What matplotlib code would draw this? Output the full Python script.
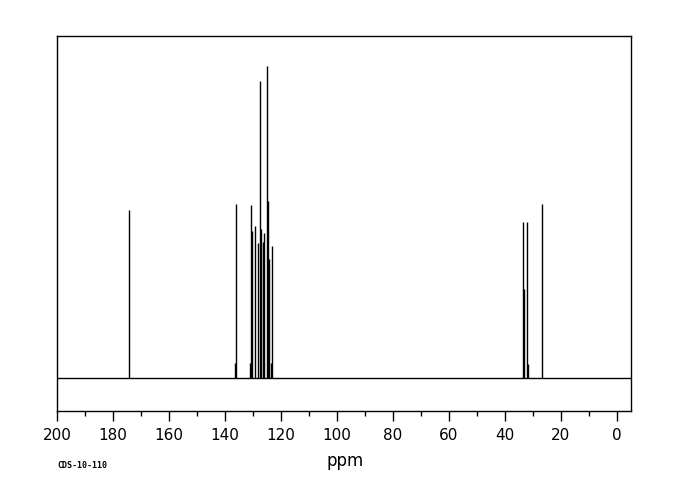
import numpy as np
import matplotlib.pyplot as plt
from matplotlib.ticker import MultipleLocator

# peak positions (ppm) and relative heights
shift = [174.2, 136.4, 136.1, 131.0, 130.7, 130.4, 129.2, 128.1, 127.4, 127.0,
         126.3, 126.0, 124.9, 124.5, 124.2, 123.7, 123.1,
         33.6, 33.3, 32.0, 31.7, 26.7]
height = [53.8, 4.8, 55.8, 4.8, 55.4, 47.0, 48.7, 43.4, 95.3, 47.8,
          43.6, 46.6, 100.0, 56.7, 38.2, 4.9, 42.3,
          49.9, 28.5, 49.9, 4.5, 55.7]

ticks_major = np.arange(0, 201, 20)
code = 'CDS-10-110'

fig = plt.figure(figsize=(6.8, 5.0), dpi=100)
ax = fig.add_axes([57 / 680, 89 / 500, 574 / 680, 375 / 500])

ax.axhline(0, color='black', lw=1.0)
ax.vlines(shift, 0, height, color='black', lw=1.0)

ax.set_xlim(200, -5.1)
ax.set_ylim(-10.6, 109.6)
ax.set_yticks([])
ax.set_xticks(ticks_major)
ax.xaxis.set_minor_locator(MultipleLocator(10))
ax.tick_params(axis='x', which='major', direction='out', length=7, width=1,
               labelsize=11, pad=5)
ax.tick_params(axis='x', which='minor', direction='out', length=3.6, width=1)
for s in ax.spines.values():
    s.set_linewidth(1.0)

fig.text(345 / 680, 1 - 461 / 500, 'ppm', ha='center', va='center', fontsize=12)
fig.text(57 / 680, 1 - 465 / 500, code, ha='left', va='center', fontsize=6,
         family='DejaVu Sans Mono', weight='bold')

fig.savefig('out.png', dpi=100)
